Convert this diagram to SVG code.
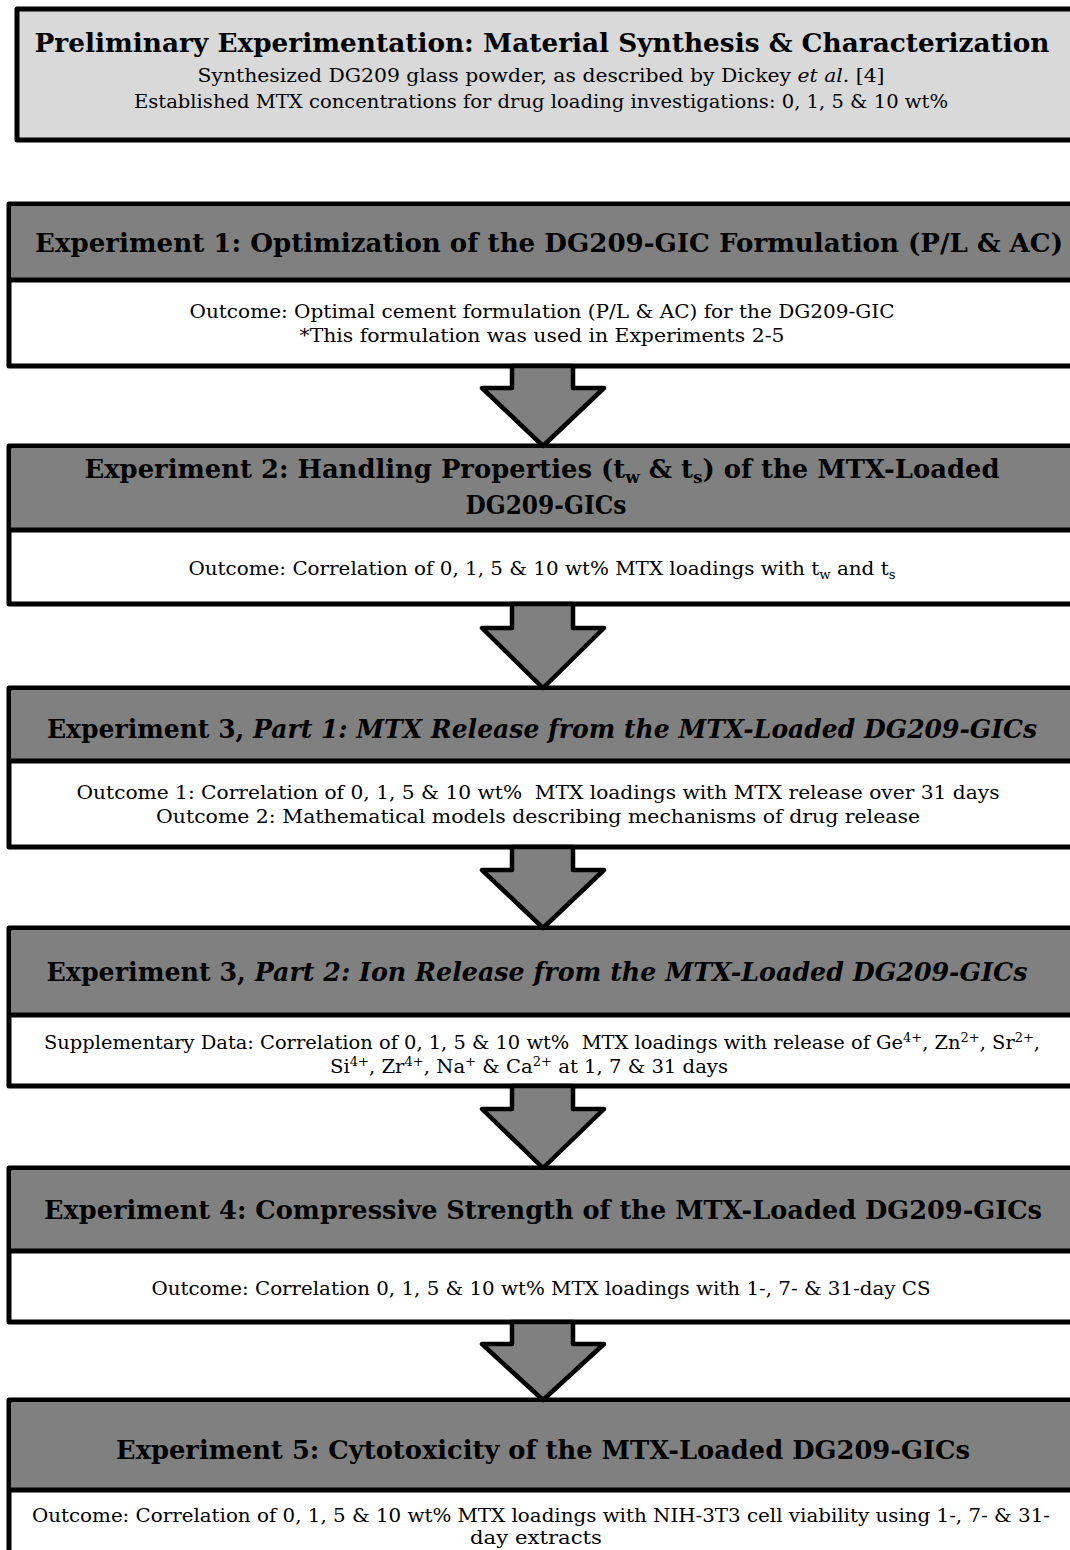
<svg xmlns="http://www.w3.org/2000/svg" width="1070" height="1550" viewBox="0 0 1070 1550">
<style>
.box{stroke:#000;stroke-width:5;stroke-linejoin:round}
.hdr{fill:#808080}
.wht{fill:#fff}
.pre{fill:#d9d9d9}
.div{stroke:#000;stroke-width:5}
.arrow{fill:#808080;stroke:#000;stroke-width:4.5;stroke-linejoin:round}
text{font-family:"DejaVu Serif","Liberation Serif",serif;fill:#000;text-anchor:middle}
.h{font-size:26px;font-weight:bold}
.b{font-size:18px}
.t{font-size:26px;font-weight:bold}
</style>
<rect width="1070" height="1550" fill="#fff"/>
<g id="node-preliminary">
<rect class="box pre" x="17" y="9" width="1070" height="131"/>
<text class="t" x="542" y="52" textLength="1015" lengthAdjust="spacingAndGlyphs">Preliminary Experimentation: Material Synthesis &amp; Characterization</text>
<text class="b" x="541" y="82" textLength="687" lengthAdjust="spacingAndGlyphs">Synthesized DG209 glass powder, as described by Dickey <tspan font-style="italic">et al.</tspan> [4]</text>
<text class="b" x="541" y="108" textLength="814" lengthAdjust="spacingAndGlyphs">Established MTX concentrations for drug loading investigations: 0, 1, 5 &amp; 10 wt%</text>
</g>
<g id="node-exp1">
<rect class="box wht" x="9" y="204" width="1080" height="162"/>
<rect class="hdr" x="11.5" y="206.5" width="1070" height="73.5"/>
<line class="div" x1="9" y1="280" x2="1075" y2="280"/>
<text class="h" x="549" y="252" textLength="1028" lengthAdjust="spacingAndGlyphs">Experiment 1: Optimization of the DG209-GIC Formulation (P/L &amp; AC)</text>
<text class="b" x="542" y="318" textLength="705" lengthAdjust="spacingAndGlyphs">Outcome: Optimal cement formulation (P/L &amp; AC) for the DG209-GIC</text>
<text class="b" x="542" y="342" textLength="485" lengthAdjust="spacingAndGlyphs">*This formulation was used in Experiments 2-5</text>
</g>
<g id="node-exp2">
<rect class="box wht" x="9" y="446" width="1080" height="158"/>
<rect class="hdr" x="11.5" y="448.5" width="1070" height="81.5"/>
<line class="div" x1="9" y1="530" x2="1075" y2="530"/>
<text class="h" x="542" y="478" textLength="915" lengthAdjust="spacingAndGlyphs">Experiment 2: Handling Properties (t<tspan font-size="17" dy="5">w</tspan><tspan dy="-5"> &amp; t</tspan><tspan font-size="17" dy="5">s</tspan><tspan dy="-5">) of the MTX-Loaded</tspan></text>
<text class="h" x="546" y="514" textLength="161" lengthAdjust="spacingAndGlyphs">DG209-GICs</text>
<text class="b" x="542" y="575" textLength="707" lengthAdjust="spacingAndGlyphs">Outcome: Correlation of 0, 1, 5 &amp; 10 wt% MTX loadings with t<tspan font-size="12" dy="4">w</tspan><tspan dy="-4"> and t</tspan><tspan font-size="12" dy="4">s</tspan></text>
</g>
<g id="node-exp3-part1">
<rect class="box wht" x="9" y="688" width="1080" height="159"/>
<rect class="hdr" x="11.5" y="690.5" width="1070" height="70.5"/>
<line class="div" x1="9" y1="761" x2="1075" y2="761"/>
<text class="h" x="542" y="738" textLength="990" lengthAdjust="spacingAndGlyphs">Experiment 3, <tspan font-style="italic">Part 1: MTX Release from the MTX-Loaded DG209-GICs</tspan></text>
<text class="b" x="538" y="799" textLength="923" lengthAdjust="spacingAndGlyphs">Outcome 1: Correlation of 0, 1, 5 &amp; 10 wt%&#160; MTX loadings with MTX release over 31 days</text>
<text class="b" x="538" y="823" textLength="764" lengthAdjust="spacingAndGlyphs">Outcome 2: Mathematical models describing mechanisms of drug release</text>
</g>
<g id="node-exp3-part2">
<rect class="box wht" x="9" y="928" width="1080" height="158"/>
<rect class="hdr" x="11.5" y="930.5" width="1070" height="84.5"/>
<line class="div" x1="9" y1="1015" x2="1075" y2="1015"/>
<text class="h" x="537" y="981" textLength="981" lengthAdjust="spacingAndGlyphs">Experiment 3, <tspan font-style="italic">Part 2: Ion Release from the MTX-Loaded DG209-GICs</tspan></text>
<text class="b" x="542" y="1049" textLength="996" lengthAdjust="spacingAndGlyphs">Supplementary Data: Correlation of 0, 1, 5 &amp; 10 wt%&#160; MTX loadings with release of Ge<tspan font-size="12" dy="-7">4+</tspan><tspan dy="7">, Zn</tspan><tspan font-size="12" dy="-7">2+</tspan><tspan dy="7">, Sr</tspan><tspan font-size="12" dy="-7">2+</tspan><tspan dy="7">,</tspan></text>
<text class="b" x="529" y="1073" textLength="398" lengthAdjust="spacingAndGlyphs">Si<tspan font-size="12" dy="-7">4+</tspan><tspan dy="7">, Zr</tspan><tspan font-size="12" dy="-7">4+</tspan><tspan dy="7">, Na</tspan><tspan font-size="12" dy="-7">+</tspan><tspan dy="7"> &amp; Ca</tspan><tspan font-size="12" dy="-7">2+</tspan><tspan dy="7"> at 1, 7 &amp; 31 days</tspan></text>
</g>
<g id="node-exp4">
<rect class="box wht" x="9" y="1168" width="1080" height="154"/>
<rect class="hdr" x="11.5" y="1170.5" width="1070" height="80.5"/>
<line class="div" x1="9" y1="1251" x2="1075" y2="1251"/>
<text class="h" x="543" y="1219" textLength="998" lengthAdjust="spacingAndGlyphs">Experiment 4: Compressive Strength of the MTX-Loaded DG209-GICs</text>
<text class="b" x="541" y="1295" textLength="779" lengthAdjust="spacingAndGlyphs">Outcome: Correlation 0, 1, 5 &amp; 10 wt% MTX loadings with 1-, 7- &amp; 31-day CS</text>
</g>
<g id="node-exp5">
<rect class="box wht" x="9" y="1400" width="1080" height="170"/>
<rect class="hdr" x="11.5" y="1402.5" width="1070" height="87.5"/>
<line class="div" x1="9" y1="1490" x2="1075" y2="1490"/>
<text class="h" x="543" y="1459" textLength="854" lengthAdjust="spacingAndGlyphs">Experiment 5: Cytotoxicity of the MTX-Loaded DG209-GICs</text>
<text class="b" x="541" y="1522" textLength="1018" lengthAdjust="spacingAndGlyphs">Outcome: Correlation of 0, 1, 5 &amp; 10 wt% MTX loadings with NIH-3T3 cell viability using 1-, 7- &amp; 31-</text>
<text class="b" x="536" y="1544" textLength="132" lengthAdjust="spacingAndGlyphs">day extracts</text>
</g>
<g id="connectors">
<path class="arrow" d="M512,366 L573,366 L573,388 L604,388 L543,446 L482,388 L512,388 Z"/>
<path class="arrow" d="M512,604 L573,604 L573,628 L604,628 L543,688 L482,628 L512,628 Z"/>
<path class="arrow" d="M512,847 L573,847 L573,870 L604,870 L543,928 L482,870 L512,870 Z"/>
<path class="arrow" d="M512,1086 L573,1086 L573,1109 L604,1109 L543,1168 L482,1109 L512,1109 Z"/>
<path class="arrow" d="M512,1322 L573,1322 L573,1344 L604,1344 L543,1400 L482,1344 L512,1344 Z"/>
</g>
</svg>
